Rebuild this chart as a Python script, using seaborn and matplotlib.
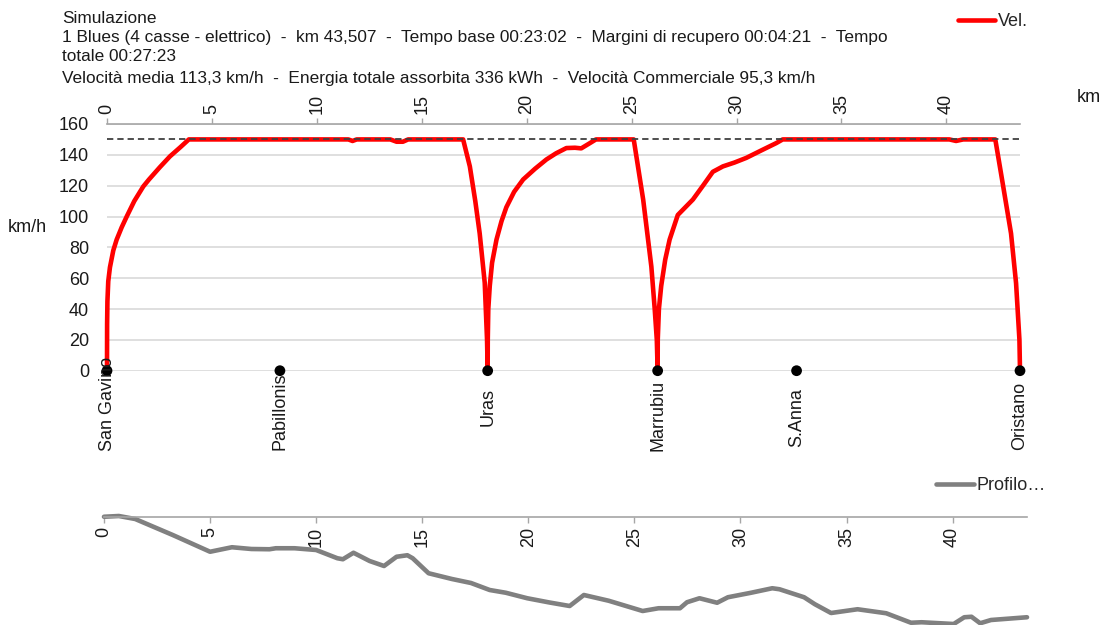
import numpy as np
import pandas as pd
import matplotlib
matplotlib.use("Agg")
import matplotlib.pyplot as plt
import seaborn as sns

# ---- speed profile (km, km/h) ----
speed_km = [0.000, 0.005, 0.02, 0.06, 0.14, 0.30, 0.46, 0.70, 0.94, 1.30, 1.73, 2.00,
            2.52, 3.00, 3.50, 3.90, 11.50, 11.70, 11.90, 13.50, 13.80, 14.10, 14.35,
            16.97, 17.29, 17.55, 17.76, 18.00, 18.11, 18.14,
            18.145, 18.17, 18.24, 18.35, 18.56, 18.80, 19.03, 19.40, 19.83, 20.40,
            20.94, 21.40, 21.89, 22.30, 22.60, 23.00, 23.30, 25.10, 25.55, 25.94,
            26.10, 26.20, 26.24,
            26.245, 26.30, 26.41, 26.60, 26.81, 27.20, 27.92, 28.40, 28.87, 29.35,
            29.90, 30.46, 31.20, 31.89, 32.20, 40.14, 40.46, 40.80, 42.33, 42.68,
            43.08, 43.32, 43.48, 43.507]
speed_kmh = [0, 30, 45, 58, 67, 78, 85, 93, 100, 110, 119.5, 124,
             132, 139, 145, 150, 150, 149, 150, 150, 148.5, 148.5, 150,
             150, 132.5, 110, 89, 57, 20, 0,
             20, 40, 55, 70, 85, 97, 106, 116, 124, 131,
             137, 141, 144.4, 144.6, 144.2, 147.5, 150, 150, 111, 67.5,
             40, 20, 0,
             20, 40, 55, 72, 85, 101, 111, 120, 129, 132.5,
             135, 138, 143, 147.6, 150, 150, 149, 150, 150, 121.7,
             89, 56.7, 20, 0]

# line speed limit
limit_km = [0.0, 43.507]
limit_kmh = [150, 150]

# ---- stations ----
station_names = ["San Gavino", "Pabillonis", "Uras", "Marrubiu", "S.Anna", "Oristano"]
station_km = [0.0, 8.24, 18.14, 26.24, 32.86, 43.507]
station_label_shift = [10, -1, -12.5, -6.5, -12.5, -8]   # points, label top vs. marker

# ---- altimetric profile (km, m) ----
prof_km = [0.0, 0.7, 1.47, 3.24, 5.0, 6.03, 6.95, 7.8, 8.1, 8.98, 10.0, 11.0, 11.26,
           11.76, 12.52, 13.2, 13.79, 14.3, 14.55, 15.3, 16.4, 17.3, 18.18, 18.94,
           19.95, 21.0, 21.95, 22.62, 23.79, 25.39, 26.14, 27.15, 27.48, 28.07, 28.9,
           29.41, 30.5, 31.5, 31.84, 33.0, 33.51, 34.27, 35.52, 36.87, 38.04, 38.54,
           40.05, 40.55, 40.89, 41.3, 41.81, 43.507]
prof_m = [52.1, 52.4, 51.2, 44.8, 38.1, 39.9, 39.2, 39.1, 39.5, 39.5, 38.8, 35.5, 35.1,
          37.7, 34.4, 32.4, 36.1, 36.7, 35.5, 29.5, 27.2, 25.6, 22.8, 21.7,
          19.5, 17.8, 16.4, 20.8, 18.5, 14.4, 15.5, 15.5, 17.9, 19.5, 17.7,
          19.9, 21.7, 23.5, 23.1, 19.9, 17.1, 13.6, 15.1, 13.5, 9.7, 9.9,
          9.2, 11.9, 12.1, 9.5, 10.8, 11.9]

km_ticks = [0, 5, 10, 15, 20, 25, 30, 35, 40]
kmh_ticks = [0, 20, 40, 60, 80, 100, 120, 140, 160]

info_lines = [
    "Simulazione",
    "1 Blues (4 casse - elettrico)  -  km 43,507  -  Tempo base 00:23:02  -  Margini di recupero 00:04:21  -  Tempo",
    "totale 00:27:23",
    "Velocità media 113,3 km/h  -  Energia totale assorbita 336 kWh  -  Velocità Commerciale 95,3 km/h",
]

sns.set_theme(style="white")
plt.rcParams["font.family"] = ["Liberation Sans", "DejaVu Sans"]

W, H = 1106, 625
fig = plt.figure(figsize=(W / 100, H / 100), dpi=100)
fig.patch.set_facecolor("white")


def fx(px):
    return px / W


def fy(py):
    return 1 - py / H


AXIS_GREY = "#A6A6A6"
GRID_GREY = "#D9D9D9"
TEXT = "#1a1a1a"
FS = 13

# ---------------- speed chart ----------------
ax1 = fig.add_axes([fx(107), fy(370.7), (1020 - 107) / W, (370.7 - 124) / H])
speed_df = pd.DataFrame({"km": speed_km, "v": speed_kmh})
sns.lineplot(data=speed_df, x="km", y="v", ax=ax1, color="#FF0000", lw=3.3,
             sort=False, estimator=None, legend=False, clip_on=False, zorder=3)
sns.lineplot(x=limit_km, y=limit_kmh, ax=ax1, color="#404040", lw=1.3,
             linestyle=(0, (3.5, 2.2)), sort=False, estimator=None, legend=False, zorder=4)
sns.scatterplot(x=station_km, y=[0] * len(station_km), ax=ax1, color="black", s=60,
                edgecolor="none", zorder=5, clip_on=False, legend=False)
for name, k, dy in zip(station_names, station_km, station_label_shift):
    ax1.annotate(name, (k, 0), xytext=(0, dy), textcoords="offset points",
                 rotation=90, ha="center", va="top", fontsize=FS, color=TEXT,
                 annotation_clip=False, zorder=6)

ax1.set_xlim(0, 43.507)
ax1.set_ylim(0, 160)
ax1.set_xlabel("")
ax1.set_ylabel("")
ax1.xaxis.tick_top()
ax1.set_xticks(km_ticks)
ax1.set_xticklabels([str(t) for t in km_ticks])
ax1.set_yticks(kmh_ticks)
ax1.set_yticklabels([str(t) for t in kmh_ticks])
ax1.tick_params(axis="x", top=True, bottom=False, direction="out", length=4,
                width=1, color=AXIS_GREY, pad=3, labelrotation=90, labelsize=FS,
                labelcolor=TEXT)
ax1.tick_params(axis="y", length=0, pad=13, labelsize=FS, labelcolor=TEXT)
ax1.yaxis.grid(True, color=GRID_GREY, lw=1.2)
ax1.set_axisbelow(True)
for side in ["left", "right", "bottom"]:
    ax1.spines[side].set_visible(False)
ax1.spines["top"].set_color(AXIS_GREY)
ax1.spines["top"].set_linewidth(1.2)

# ---------------- altimetric profile ----------------
ax2 = fig.add_axes([fx(104), 0, (1027 - 104) / W, (H - 517) / H])
# axis line carried at the top edge, ticks and labels hanging below it
ax2.spines["bottom"].set_position(("axes", 1.0))
sns.lineplot(x=prof_km, y=prof_m, ax=ax2, color="#808080", lw=3.3, sort=False,
             estimator=None, legend=False, clip_on=False)
ax2.set_xlim(0, 43.507)
ax2.set_ylim(8.8, 52.0)
ax2.set_xlabel("")
ax2.set_ylabel("")
ax2.set_yticks([])
ax2.set_xticks(km_ticks)
ax2.set_xticklabels([str(t) for t in km_ticks])
ax2.spines["bottom"].set_color(AXIS_GREY)
ax2.spines["bottom"].set_linewidth(1.2)
for side in ["left", "right", "top"]:
    ax2.spines[side].set_visible(False)
ax2.tick_params(axis="x", bottom=True, top=False, direction="out", length=4, width=1,
                color=AXIS_GREY, pad=3, labelrotation=90, labelsize=FS, labelcolor=TEXT)
ax2.patch.set_alpha(0)

# ---------------- texts and legends ----------------
baselines = [23, 42, 61, 83]
for line, b in zip(info_lines, baselines):
    fig.text(fx(62), fy(b), line, fontsize=12.4, color=TEXT, va="baseline", ha="left")

fig.text(fx(8), fy(227), "km/h", fontsize=FS, va="center", ha="left", color=TEXT)
fig.text(fx(1077), fy(97), "km", fontsize=FS, va="center", ha="left", color=TEXT)

h1 = plt.Line2D([], [], color="#FF0000", lw=3.3)
fig.legend([h1], ["Vel."], loc="center left", bbox_to_anchor=(fx(958), fy(22)),
           frameon=False, fontsize=FS, handlelength=2.05, handletextpad=0.15,
           borderpad=0, borderaxespad=0)
h2 = plt.Line2D([], [], color="#808080", lw=3.3)
fig.legend([h2], ["Profilo…"], loc="center left", bbox_to_anchor=(fx(936), fy(486)),
           frameon=False, fontsize=FS, handlelength=2.1, handletextpad=0.15,
           borderpad=0, borderaxespad=0)

fig.savefig("out.png", dpi=100)
